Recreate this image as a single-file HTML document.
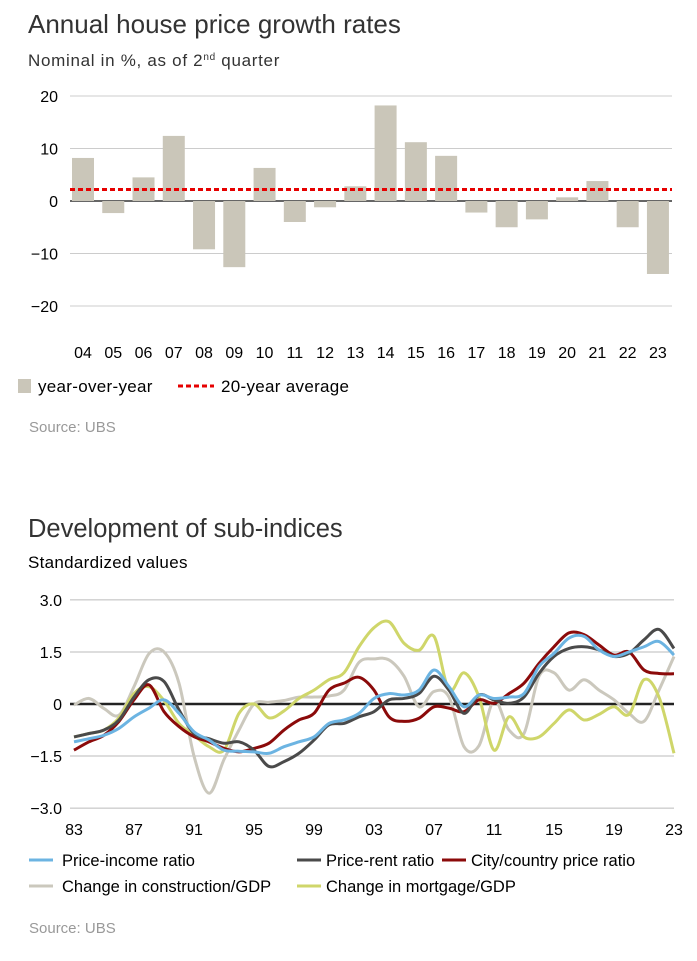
<!DOCTYPE html>
<html><head><meta charset="utf-8"><style>
body{margin:0;background:#fff;width:697px;height:961px;overflow:hidden;font-family:"Liberation Sans",sans-serif;color:#333}
svg{position:absolute;left:0;top:0}
.lt{font-size:17px;letter-spacing:0.3px}
.lg{font-size:16.5px}
</style></head><body>
<svg width="697" height="961">
<text x="28" y="33" font-size="26" fill="#333">Annual house price growth rates</text>
<text x="28" y="66" class="lt" fill="#333" style="letter-spacing:0.7px">Nominal in %, as of 2<tspan font-size="10" dy="-6">nd</tspan><tspan dy="6"> quarter</tspan></text>
<g id="bars"></g>
<rect x="18" y="379" width="13" height="14" fill="#cac6b9"/>
<text x="38" y="392" class="lt">year-over-year</text>
<line x1="178" y1="386" x2="214" y2="386" stroke="#e60000" stroke-width="3" stroke-dasharray="5,3"/>
<text x="221" y="392" class="lt">20-year average</text>
<text x="29" y="432" font-size="15" fill="#999">Source: UBS</text>
<text x="28" y="537" font-size="25.5" fill="#333">Development of sub-indices</text>
<text x="28" y="568" class="lt">Standardized values</text>
<g id="lines"></g>
<g class="lg">
<line x1="29" y1="860" x2="53" y2="860" stroke="#6cb4e2" stroke-width="3"/><text x="62" y="866">Price-income ratio</text>
<line x1="297" y1="860" x2="321" y2="860" stroke="#4a4a4a" stroke-width="3"/><text x="326" y="866">Price-rent ratio</text>
<line x1="442" y1="860" x2="466" y2="860" stroke="#8b0a0a" stroke-width="3"/><text x="471" y="866">City/country price ratio</text>
<line x1="29" y1="886" x2="53" y2="886" stroke="#cbc8bd" stroke-width="3"/><text x="62" y="892">Change in construction/GDP</text>
<line x1="297" y1="886" x2="321" y2="886" stroke="#cfd66a" stroke-width="3"/><text x="326" y="892">Change in mortgage/GDP</text>
</g>
<text x="29" y="933" font-size="15" fill="#999">Source: UBS</text>
</svg>
<script>
const barCats=["04","05","06","07","08","09","10","11","12","13","14","15","16","17","18","19","20","21","22","23"];
const barVals=[8.2,-2.3,4.5,12.4,-9.2,-12.6,6.3,-4,-1.2,2.8,18.2,11.2,8.6,-2.2,-5,-3.5,0.7,3.8,-5,-13.9];
const barTicks=[20,10,0,-10,-20];
const avgVal=2.2;
const years=[];for(let y=1983;y<=2023;y++)years.push(y);
const priceIncome=[-1.09,-1.0,-0.9,-0.7,-0.37,-0.12,0.12,-0.27,-0.8,-1.04,-1.33,-1.36,-1.38,-1.42,-1.23,-1.09,-0.95,-0.56,-0.46,-0.27,0.16,0.3,0.26,0.4,0.98,0.5,-0.08,0.26,0.16,0.2,0.3,1.08,1.46,1.9,1.95,1.56,1.37,1.5,1.65,1.8,1.41];
const priceRent=[-0.95,-0.85,-0.75,-0.46,0.2,0.7,0.65,-0.17,-0.85,-1.0,-1.13,-1.09,-1.33,-1.8,-1.66,-1.42,-1.04,-0.6,-0.56,-0.37,-0.22,0.12,0.16,0.3,0.8,0.4,-0.27,0.26,0.12,0.02,0.2,0.88,1.37,1.6,1.65,1.56,1.37,1.46,1.85,2.15,1.6];
const cityCountry=[-1.33,-1.09,-0.9,-0.5,0.12,0.55,-0.22,-0.65,-0.94,-1.09,-1.28,-1.38,-1.28,-1.13,-0.75,-0.46,-0.27,0.4,0.6,0.77,0.4,-0.37,-0.5,-0.41,-0.08,-0.12,-0.22,0.12,0.02,0.3,0.6,1.17,1.65,2.05,2.0,1.7,1.41,1.5,0.98,0.88,0.87];
const construction=[-0.03,0.16,-0.13,-0.32,0.5,1.45,1.5,0.6,-1.5,-2.57,-1.6,-0.75,0,0.05,0.1,0.2,0.2,0.23,0.4,1.2,1.3,1.27,0.8,-0.08,0.36,0.2,-1.23,-1.2,0.1,-0.75,-0.85,0.8,0.9,0.4,0.7,0.4,0.12,-0.27,-0.5,0.4,1.37];
const mortgage=[-0.95,-0.85,-0.75,-0.4,0.3,0.5,0.1,-0.56,-0.9,-1.23,-1.33,-0.27,0,-0.4,-0.2,0.16,0.4,0.7,0.9,1.65,2.2,2.37,1.75,1.55,1.95,0.4,0.9,0.2,-1.33,-0.37,-0.95,-0.95,-0.56,-0.17,-0.46,-0.3,-0.08,-0.3,0.7,0.2,-1.42];
const lineTicks=["3.0","1.5","0","−1.5","−3.0"];const lineTickVals=[3,1.5,0,-1.5,-3];
const xLabelYears=[1983,1987,1991,1995,1999,2003,2007,2011,2015,2019,2023];
const NS="http://www.w3.org/2000/svg";
function mk(t,a,p){const e=document.createElementNS(NS,t);for(const k in a)e.setAttribute(k,a[k]);p.appendChild(e);return e;}
const bg=document.getElementById('bars');
const by=v=>201-v*5.25, bx=i=>83+i*30.26;
barTicks.forEach(t=>{const l=mk('line',{x1:70,x2:672,y1:by(t),y2:by(t),stroke:t===0?'#333':'#ccc','stroke-width':t===0?1.5:1},bg);

const tx=mk('text',{x:58,y:by(t)+6,'font-size':16,'text-anchor':'end'},bg);tx.textContent=t<0?'−'+(-t):t;
});
barVals.forEach((v,i)=>{const r=mk('rect',{x:bx(i)-11,width:22,y:Math.min(by(v),by(0)),height:Math.abs(by(v)-by(0)),fill:'#cac6b9'},bg);

const tx=mk('text',{x:bx(i),y:358,'font-size':16,'text-anchor':'middle'},bg);tx.textContent=barCats[i];
});
const av=mk('line',{x1:70,x2:672,y1:by(avgVal),y2:by(avgVal),stroke:'#e60000','stroke-width':3,'stroke-dasharray':'5,3'},bg);

const lg=document.getElementById('lines');
const ly=v=>704-v*34.7, lx=y=>74+(y-1983)*15;
lineTickVals.forEach((t,i)=>{const l=mk('line',{x1:70,x2:674,y1:ly(t),y2:ly(t),stroke:'#bbb','stroke-width':1},lg);

const tx=mk('text',{x:62,y:ly(t)+6,'font-size':16,'text-anchor':'end'},lg);tx.textContent=lineTicks[i];
});
xLabelYears.forEach(y=>{const tx=mk('text',{x:lx(y),y:835,'font-size':16,'text-anchor':'middle'},lg);tx.textContent=String(y).slice(2);
});
function smooth(pts){let d='M'+pts[0][0]+','+pts[0][1];for(let i=0;i<pts.length-1;i++){const p0=pts[Math.max(0,i-1)],p1=pts[i],p2=pts[i+1],p3=pts[Math.min(pts.length-1,i+2)];
const c1=[p1[0]+(p2[0]-p0[0])/6,p1[1]+(p2[1]-p0[1])/6],c2=[p2[0]-(p3[0]-p1[0])/6,p2[1]-(p3[1]-p1[1])/6];
d+=' C'+c1.join(',')+' '+c2.join(',')+' '+p2.join(',');}return d;}
const series=[[construction,'#cbc8bd','construction-line'],[mortgage,'#cfd66a','mortgage-line'],[cityCountry,'#8b0a0a','city-country-line'],[priceRent,'#4a4a4a','price-rent-line'],[priceIncome,'#6cb4e2','price-income-line']];
const z=mk('line',{x1:70,x2:674,y1:ly(0),y2:ly(0),stroke:'#222','stroke-width':2.5},lg);

series.forEach(([d,c,n])=>{const p=mk('path',{d:smooth(d.map((v,i)=>[lx(years[i]),ly(v)])),fill:'none',stroke:c,'stroke-width':3,'stroke-linejoin':'round'},lg);
});
</script>
</body></html>
